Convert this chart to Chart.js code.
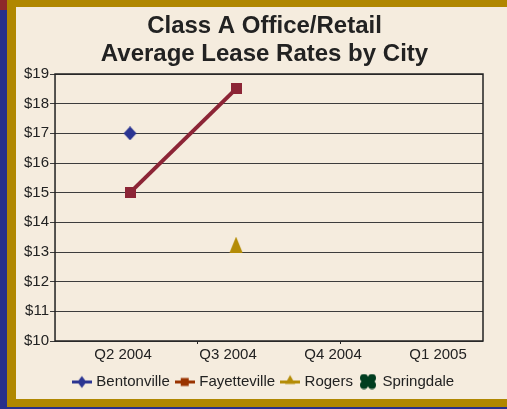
<!DOCTYPE html>
<html>
<head>
<meta charset="utf-8">
<title>Class A Office/Retail Average Lease Rates by City</title>
<script src="https://cdn.jsdelivr.net/npm/chart.js@4.4.1/dist/chart.umd.min.js"></script>
<style>
  html, body { margin: 0; padding: 0; }
  body { width: 507px; height: 409px; position: relative; overflow: hidden; background: #272f8b; }
  #corner { position: absolute; left: 0; top: 0; width: 7px; height: 10px; background: #8e2a2a; }
  #frame  { position: absolute; left: 7px; top: 0; width: 500px; height: 407px; background: #b08700; }
  #panel  { position: absolute; left: 16px; top: 7px; width: 491px; height: 392px; background: #f5ecde; }
</style>
</head>
<body>
<div id="corner"></div>
<div id="frame"></div>
<div id="panel"><canvas id="chart" width="491" height="392"></canvas></div>

<script>
// ---- data ----
const quarters     = ["Q2 2004", "Q3 2004", "Q4 2004", "Q1 2005"];
const bentonville  = [17, null, null, null];
const fayetteville = [15, 18.5, null, null];
const rogers       = [null, 13.25, null, null];
const springdale   = [null, null, null, null];
const titleLines   = ["Class A Office/Retail", "Average Lease Rates by City"];

const FONT = "'Liberation Sans', Arial, sans-serif";
const INK  = "#222222";

// ---- marker pictures ----
function makeCanvas(w, h) {
  const c = document.createElement("canvas");
  c.width = w; c.height = h;
  return c;
}
function drawDiamond(ctx, cx, cy, w, h, color) {
  ctx.fillStyle = color;
  ctx.beginPath();
  ctx.moveTo(cx, cy - h / 2);
  ctx.lineTo(cx + w / 2, cy);
  ctx.lineTo(cx, cy + h / 2);
  ctx.lineTo(cx - w / 2, cy);
  ctx.closePath();
  ctx.fill();
}
function drawTriangle(ctx, cx, cy, w, h, color) {
  ctx.fillStyle = color;
  ctx.beginPath();
  ctx.moveTo(cx, cy - h / 2);
  ctx.lineTo(cx + w / 2, cy + h / 2);
  ctx.lineTo(cx - w / 2, cy + h / 2);
  ctx.closePath();
  ctx.fill();
}
function drawClover(ctx, cx, cy, color) {
  ctx.fillStyle = color;
  [[-4, -3.5], [4, -3.5], [-4, 3.5], [4, 3.5]].forEach(([dx, dy]) => {
    ctx.beginPath();
    ctx.arc(cx + dx, cy + dy, 4, 0, Math.PI * 2);
    ctx.fill();
  });
  ctx.fillRect(cx - 5, cy - 2, 10, 4);
  ctx.fillRect(cx - 2, cy - 5, 4, 10);
}

function diamondImg(color) {
  const c = makeCanvas(14, 14);
  drawDiamond(c.getContext("2d"), 7, 7, 13, 14, color);
  return c;
}
function squareImg(color) {
  const c = makeCanvas(11, 11);
  const ctx = c.getContext("2d");
  ctx.fillStyle = color;
  ctx.fillRect(0, 0, 11, 11);
  return c;
}
function triangleImg(color) {
  const c = makeCanvas(14, 16);
  drawTriangle(c.getContext("2d"), 7, 8, 13, 16, color);
  return c;
}

function legendImg(color, marker) {
  const c = makeCanvas(20, 16);
  const ctx = c.getContext("2d");
  if (marker !== "clover") {
    ctx.fillStyle = color;
    ctx.fillRect(0, 7, 20, 3);
  }
  if (marker === "diamond") drawDiamond(ctx, 10, 8.5, 9, 12, color);
  if (marker === "square") { ctx.fillStyle = color; ctx.fillRect(6, 4.5, 8, 8); }
  if (marker === "triangle") drawTriangle(ctx, 10, 6, 10, 9, color);
  if (marker === "clover") drawClover(ctx, 10, 8, color);
  return c;
}

const seriesStyle = [
  { name: "Bentonville",  data: bentonville,  color: "#2b3592", legendColor: "#2b3592", point: diamondImg("#2b3592"),  legend: "diamond",  line: false },
  { name: "Fayetteville", data: fayetteville, color: "#8c2536", legendColor: "#993300", point: squareImg("#8c2536"),   legend: "square",   line: true  },
  { name: "Rogers",       data: rogers,       color: "#b48c06", legendColor: "#b48c06", point: triangleImg("#b48c06"), legend: "triangle", line: false },
  { name: "Springdale",   data: springdale,   color: "#003d1f", legendColor: "#003d1f", point: "circle",               legend: "clover",   line: false }
];

const datasets = seriesStyle.map(s => ({
  label: s.name,
  data: s.data.map((v, i) => ({ x: i, y: v })),
  showLine: s.line,
  borderColor: s.color,
  backgroundColor: s.color,
  borderWidth: 4,
  pointStyle: s.point,
  pointRadius: 5,
  pointHoverRadius: 5,
  spanGaps: false
}));

// plot frame
const plotFrame = {
  id: "plotFrame",
  beforeDatasetsDraw(chart) {
    const a = chart.chartArea, ctx = chart.ctx;
    ctx.save();
    ctx.strokeStyle = INK;
    ctx.lineWidth = 1.5;
    ctx.strokeRect(a.left, a.top, a.right - a.left, a.bottom - a.top);
    ctx.restore();
  }
};

new Chart(document.getElementById("chart"), {
  type: "line",
  data: { datasets },
  plugins: [plotFrame],
  options: {
    responsive: false,
    animation: false,
    devicePixelRatio: 1,
    layout: { padding: { left: 7, right: 1, top: 0, bottom: 0 } },
    plugins: {
      title: {
        display: true,
        text: titleLines,
        color: INK,
        font: { family: FONT, size: 24, weight: "bold", lineHeight: 1.15 },
        padding: { top: 6, bottom: 5.8 }
      },
      legend: {
        position: "bottom",
        labels: {
          usePointStyle: true,
          pointStyleWidth: 14,
          padding: 8,
          color: INK,
          font: { family: FONT, size: 15 },
          generateLabels: () => seriesStyle.map((s, i) => ({
            text: s.name,
            fillStyle: s.legendColor,
            strokeStyle: s.legendColor,
            fontColor: INK,
            lineWidth: 0,
            hidden: false,
            datasetIndex: i,
            pointStyle: legendImg(s.legendColor, s.legend)
          }))
        }
      },
      tooltip: { enabled: false }
    },
    scales: {
      x: {
        type: "linear",
        display: false,
        min: -0.7075,
        max: 3.33
      },
      xt: {
        type: "linear",
        position: "bottom",
        weight: 0,
        min: 0,
        max: 3,
        afterBuildTicks: ax => { ax.ticks = [{ value: 1 }, { value: 2 }]; },
        grid: { drawOnChartArea: false, drawTicks: true, tickLength: 3, color: INK, lineWidth: 1 },
        border: { display: false },
        ticks: { display: false }
      },
      xl: {
        type: "linear",
        position: "bottom",
        weight: 1,
        min: -0.6476,
        max: 3.4286,
        afterBuildTicks: ax => { ax.ticks = quarters.map((q, i) => ({ value: i })); },
        afterFit: ax => { ax.height = 22; },
        grid: { display: false, drawTicks: false },
        border: { display: false },
        ticks: {
          autoSkip: false,
          maxRotation: 0,
          padding: 1.5,
          color: INK,
          font: { family: FONT, size: 15 },
          callback: v => quarters[v]
        }
      },
      y: {
        min: 10,
        max: 19,
        ticks: {
          stepSize: 1,
          padding: 1,
          color: INK,
          font: { family: FONT, size: 15 },
          callback: v => "$" + v
        },
        grid: { color: "#3c3c3c", lineWidth: 1, tickLength: 5, drawTicks: true },
        border: { display: false }
      },
      // empty right-hand box, only to centre title and legend like the original
      yr: {
        position: "right",
        min: 0,
        max: 1,
        afterFit: ax => { ax.width = 23; },
        grid: { display: false, drawTicks: false },
        border: { display: false },
        ticks: { display: false }
      }
    }
  }
});
</script>
</body>
</html>
